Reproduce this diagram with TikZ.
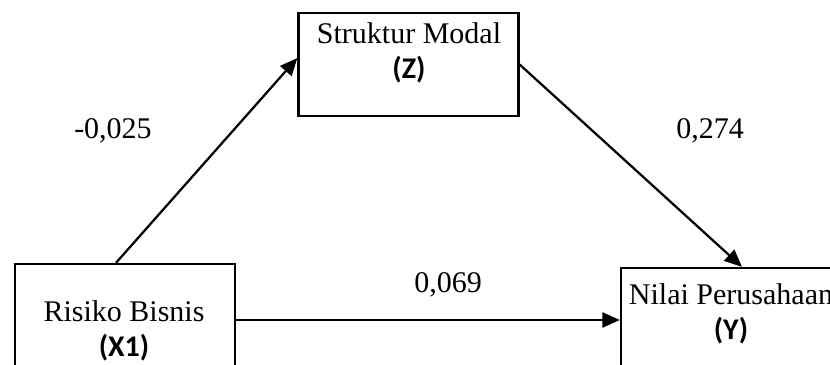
\documentclass[tikz,border=0pt]{standalone}
\usepackage{fontspec}
\setmainfont{Liberation Serif}
\newfontfamily\varfont{Carlito}
\usetikzlibrary{arrows.meta,calc}

% short variable code under each name
\newcommand\varid[1]{{\varfont\bfseries\fontsize{12}{14}\selectfont(#1)}}

\begin{document}
\begin{tikzpicture}[x=0.4pt, y=0.4pt,
  font=\fontsize{12}{14.2}\selectfont,
  var/.style={draw, line width=0.9pt, minimum width=88pt, inner sep=0pt},
  vartxt/.style={align=center, inner sep=0pt},
  path/.style={line width=0.9pt, -{Triangle[length=7pt,width=6pt]}},
  coef/.style={anchor=base, inner sep=0pt}]

\useasboundingbox (0,0) rectangle (830,365);
\clip (0,0) rectangle (830,365);

%% boxes
\node[var, minimum height=41.2pt] (Z)  at (408.5,300.5) {};
\node[var, minimum height=44.8pt] (X1) at (125,45) {};
\node[var, minimum height=41.6pt] (Y)  at (731,45) {};

%% names in the boxes
\node[vartxt] (Zt)  at (409,312) {Struktur Modal\\\varid{Z}};
\node[vartxt] (X1t) at (124,34)  {Risiko Bisnis\\\varid{X1}};
\node[vartxt] (Yt)  at (731,51)  {Nilai Perusahaan\\\varid{Y}};

%% paths
\draw[path] ($(X1.north)+(-9,0)$) -- ($(Z.west)+(0,6.5)$);
\draw[path] (Z.east) -- ($(Y.north)+(11,0)$);
\draw[path] (X1.east) -- (Y.west);

%% coefficients
\node[coef] (pa) at (113,226) {-0,025};
\node[coef] (pb) at (710,226) {0,274};
\node[coef] (pc) at (448,72)  {0,069};

\end{tikzpicture}
\end{document}
